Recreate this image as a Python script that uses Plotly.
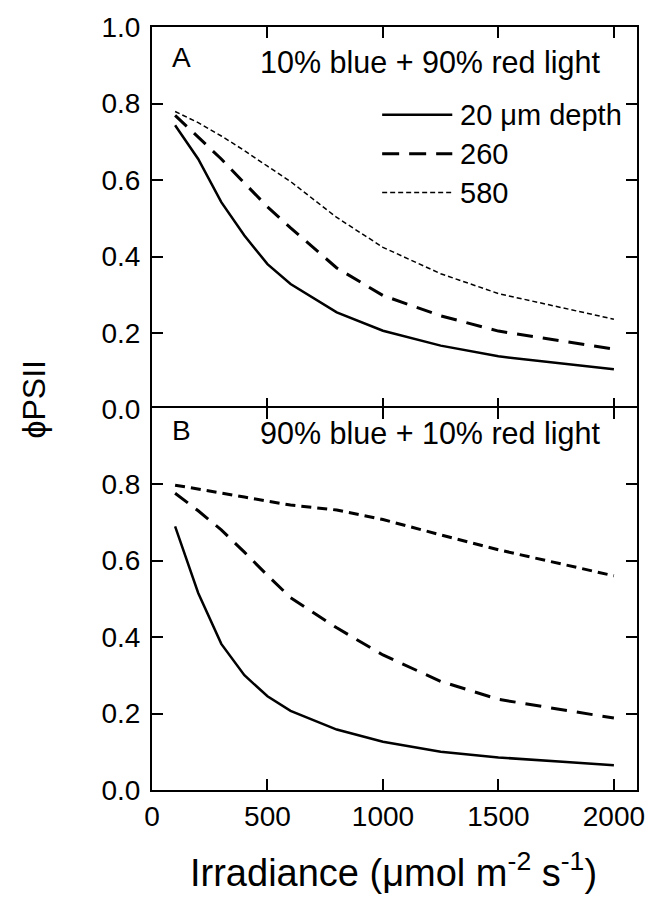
import plotly.graph_objects as go

# ---------------- data ----------------
irradiance = [100, 200, 300, 400, 500, 600, 800, 1000, 1250, 1500, 2000]

# Panel A: 10% blue + 90% red light
a_20 = [0.743, 0.655, 0.542, 0.455, 0.380, 0.328, 0.254, 0.206, 0.167, 0.139, 0.105]
a_260 = [0.769, 0.712, 0.655, 0.592, 0.530, 0.475, 0.370, 0.298, 0.245, 0.205, 0.158]
a_580 = [0.779, 0.750, 0.715, 0.677, 0.636, 0.596, 0.502, 0.424, 0.355, 0.303, 0.236]

# Panel B: 90% blue + 10% red light
b_20 = [0.689, 0.515, 0.382, 0.300, 0.245, 0.207, 0.158, 0.126, 0.100, 0.085, 0.065]
b_260 = [0.776, 0.730, 0.680, 0.622, 0.561, 0.503, 0.424, 0.353, 0.284, 0.237, 0.188]
b_580 = [0.797, 0.787, 0.777, 0.766, 0.755, 0.745, 0.732, 0.707, 0.667, 0.628, 0.560]

x_ticks = [0, 500, 1000, 1500, 2000]
y_ticks_top = [0.0, 0.2, 0.4, 0.6, 0.8, 1.0]
y_ticks_bottom = [0.0, 0.2, 0.4, 0.6, 0.8]
legend_labels = ["20 \u03bcm depth", "260", "580"]
panel_titles = ["10% blue + 90% red light", "90% blue + 10% red light"]

# ---------------- styling ----------------
FONT = "Liberation Sans, Arial, Helvetica, sans-serif"
BLACK = "black"
styles_top = [dict(width=2.5, dash="solid"),
              dict(width=3, dash="16px,10px"),
              dict(width=1.5, dash="5px,3px")]
styles_bot = [dict(width=2.5, dash="solid"),
              dict(width=3, dash="16px,10px"),
              dict(width=3, dash="10px,6px")]

fig = go.Figure()
for ys, st, name in zip([a_20, a_260, a_580], styles_top, legend_labels):
    fig.add_trace(go.Scatter(x=irradiance, y=ys, mode="lines", name=name,
                             line=dict(color=BLACK, **st), xaxis="x", yaxis="y",
                             showlegend=False))
for ys, st, name in zip([b_20, b_260, b_580], styles_bot, legend_labels):
    fig.add_trace(go.Scatter(x=irradiance, y=ys, mode="lines", name=name,
                             line=dict(color=BLACK, **st), xaxis="x2", yaxis="y2",
                             showlegend=False))

axis_common = dict(showline=True, linewidth=2, linecolor=BLACK, mirror="ticks",
                   ticks="inside", ticklen=11, tickwidth=2, tickcolor=BLACK,
                   showgrid=False, zeroline=False,
                   tickfont=dict(family=FONT, size=28, color=BLACK))

half = 1.0 / 765.0  # overlap so the shared frame line is drawn once
fig.update_layout(
    width=657, height=898,
    margin=dict(l=152, r=14, t=25, b=108),
    paper_bgcolor="white", plot_bgcolor="white",
    font=dict(family=FONT, color=BLACK),
    xaxis=dict(domain=[0, 1], range=[0, 2100], tickvals=x_ticks,
               showticklabels=False, anchor="y", **axis_common),
    yaxis=dict(domain=[0.5 - half, 1], range=[0, 1.0], tickvals=y_ticks_top,
               tickformat=".1f", anchor="x", ticklabelstandoff=4, **axis_common),
    xaxis2=dict(domain=[0, 1], range=[0, 2100], tickvals=x_ticks,
                anchor="y2", ticklabelstandoff=0, **axis_common),
    yaxis2=dict(domain=[0, 0.5 + half], range=[0, 1.0], tickvals=y_ticks_bottom,
                tickformat=".1f", anchor="x2", ticklabelstandoff=4, **axis_common),
    showlegend=False,
)

# ---------------- annotations ----------------
def px_x(p):
    return (p - 152) / 491.0

def px_y(p):
    return (790 - p) / 765.0

ann = []
ann.append(dict(text="A", x=px_x(170), y=px_y(56), xanchor="left", yanchor="middle",
                font=dict(size=28)))
ann.append(dict(text=panel_titles[0], x=px_x(259), y=px_y(61), xanchor="left",
                yanchor="middle", font=dict(size=30.5)))
ann.append(dict(text="B", x=px_x(170), y=px_y(430), xanchor="left", yanchor="middle",
                font=dict(size=28)))
ann.append(dict(text=panel_titles[1], x=px_x(259), y=px_y(433), xanchor="left",
                yanchor="middle", font=dict(size=30.5)))
# axis titles
ann.append(dict(text="Irradiance (\u03bcmol m<sup>-2</sup> s<sup>-1</sup>)",
                x=px_x(396), y=px_y(870), xanchor="center", yanchor="middle",
                font=dict(size=38)))
ann.append(dict(text="\u03d5PSII", x=px_x(33), y=px_y(398), xanchor="center",
                yanchor="middle", textangle=-90, font=dict(size=32)))

# legend (manual)
legend_rows = [113, 152, 191]
legend_styles = [dict(width=2.5, dash="solid"),
                 dict(width=3, dash="17px,10px"),
                 dict(width=1.5, dash="5px,3px")]
shapes = []
for row, lab, st in zip(legend_rows, legend_labels, legend_styles):
    shapes.append(dict(type="line", xref="paper", yref="paper",
                       x0=px_x(385), x1=px_x(456), y0=px_y(row), y1=px_y(row),
                       line=dict(color=BLACK, **st)))
    ann.append(dict(text=lab, x=px_x(462), y=px_y(row), xanchor="left",
                    yanchor="middle", font=dict(size=29)))

for a in ann:
    a.update(xref="paper", yref="paper", showarrow=False)
    a["font"].update(family=FONT, color=BLACK)

fig.update_layout(annotations=ann, shapes=shapes)

fig.write_html("out.html")
